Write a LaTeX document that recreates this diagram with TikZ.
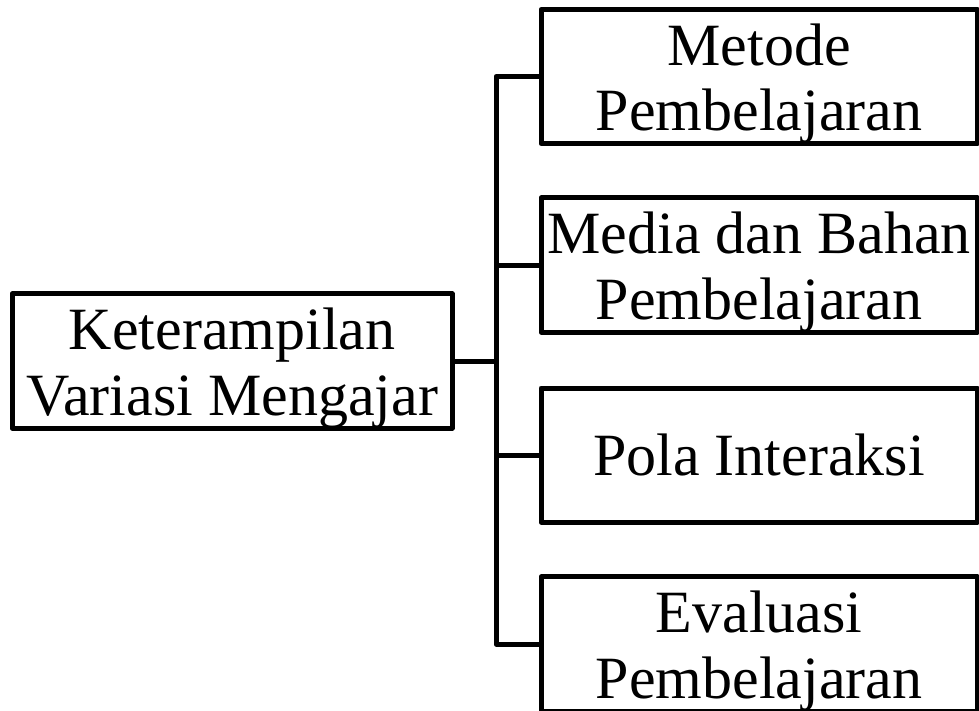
\documentclass[tikz,border=0pt]{standalone}
\usepackage{fontspec}
\setmainfont{Liberation Serif}
\usetikzlibrary{positioning}

\newcommand{\atas}{\rule{0pt}{42pt}}
\tikzset{every picture/.style={line width=3.75pt}}
\tikzset{
	kotak/.style={draw, line join=round, align=center, inner sep=0pt, font=\fontsize{45}{49}\selectfont},
	kotak kiri/.style={kotak, minimum width=330pt, minimum height=100.5pt},
	kotak kanan/.style={kotak, minimum width=327pt, minimum height=100.5pt},
	garis/.style={draw, line join=round}}

\begin{document}
\begin{tikzpicture}[x=0.75pt,y=0.75pt,yscale=-1,xscale=1]
	\useasboundingbox (0,0) rectangle (979,711);

	%Shape: Rectangle [id:main]
	\node [kotak kiri] (main) at (232.25,361) {\atas Keterampilan\\Variasi Mengajar};
	%Shape: Rectangle [id:metode]
	\node [kotak kanan] (metode) at (759,76.5) {\atas Metode\\Pembelajaran};
	%Shape: Rectangle [id:media]
	\node [kotak kanan] (media) at (759,265) {\atas Media dan Bahan\\Pembelajaran};
	%Shape: Rectangle [id:pola]
	\node [kotak kanan] (pola) at (759,455) {Pola Interaksi};
	%Shape: Rectangle [id:evaluasi]
	\node [kotak kanan] (evaluasi) at (759,644) {\atas Evaluasi\\Pembelajaran};

	%Straight Lines [id:spine]
	\coordinate (spine) at (496,361);
	\draw [garis] (main.east) -- (spine);
	\draw [garis] (metode.west) -| (spine) |- (evaluasi.west);
	%Straight Lines [id:cabang]
	\draw [garis] (media.west) -- (media.west -| spine);
	\draw [garis] (pola.west) -- (pola.west -| spine);

\end{tikzpicture}
\end{document}
